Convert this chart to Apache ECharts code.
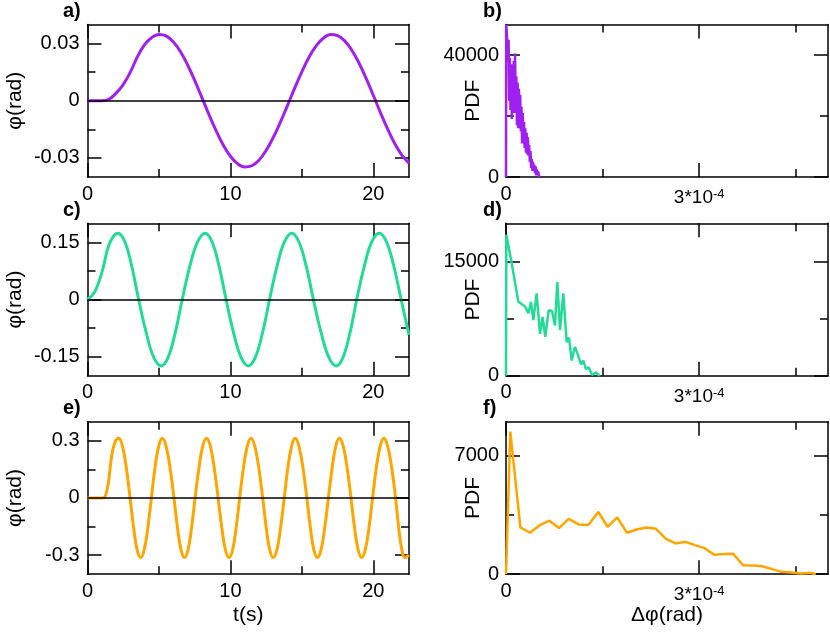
<!DOCTYPE html>
<html>
<head>
<meta charset="utf-8">
<title>phi(t) and PDF panels</title>
<script src="https://cdn.jsdelivr.net/npm/echarts@6.0.0/dist/echarts.min.js"></script>
<style>
  html, body { margin: 0; padding: 0; background: #fff; }
  #chart { width: 830px; height: 638px; }
</style>
</head>
<body>
<div id="chart"></div>
<script>
var FONT = '"Liberation Sans", Arial, Helvetica, sans-serif';

// a) phi(t), purple
var tA = [0, 0.5, 1, 1.5, 2, 2.5, 3, 3.5, 4, 4.5, 5, 5.5, 6, 6.5, 7, 7.5, 8, 8.5, 9, 9.5,
  10, 10.5, 11, 11.5, 12, 12.5, 13, 13.5, 14, 14.5, 15, 15.5, 16, 16.5, 17, 17.5, 18, 18.5,
  19, 19.5, 20, 20.5, 21, 21.5, 22, 22.5];
var phiA = [0, 0, 0, 0.0008, 0.004, 0.0085, 0.015, 0.0232, 0.0294, 0.0332, 0.0348, 0.034,
  0.0309, 0.0258, 0.0189, 0.0107, 0.0018, -0.0072, -0.0157, -0.0232, -0.0291, -0.033,
  -0.0347, -0.0341, -0.0312, -0.0261, -0.0193, -0.0112, -0.0024, 0.0066, 0.0152, 0.0228,
  0.0288, 0.0328, 0.0347, 0.0342, 0.0314, 0.0265, 0.0198, 0.0117, 0.0029, -0.0062,
  -0.0148, -0.0224, -0.0285, -0.0327];

// c) phi(t), green
var tC = [0, 0.5, 1.0, 1.45, 1.8, 2.14, 2.62, 3.10, 3.58, 4.11, 4.63, 5.16, 5.65, 6.14,
  6.63, 7.16, 7.70, 8.23, 8.72, 9.21, 9.70, 10.22, 10.74, 11.26, 11.75, 12.25, 12.74,
  13.26, 13.78, 14.30, 14.80, 15.31, 15.81, 16.35, 16.88, 17.42, 17.89, 18.37, 18.84,
  19.37, 19.89, 20.42, 20.93, 21.44, 21.95, 22.5];
var phiC = [0, 0.02, 0.07, 0.138, 0.165, 0.174, 0.151, 0.087, 0, -0.087, -0.151, -0.174,
  -0.151, -0.087, 0, 0.087, 0.151, 0.174, 0.151, 0.087, 0, -0.087, -0.151, -0.174,
  -0.151, -0.087, 0, 0.087, 0.151, 0.174, 0.151, 0.087, 0, -0.087, -0.151, -0.174,
  -0.151, -0.087, 0, 0.087, 0.151, 0.174, 0.151, 0.087, 0, -0.093];

// e) phi(t), orange
var tE = [0, 0.5, 1.0, 1.16, 1.44, 1.67, 1.91, 2.19,
  2.45, 2.72, 2.98, 3.23, 3.47, 3.72, 3.97, 4.22, 4.47, 4.72, 4.98, 5.23,
  5.50, 5.78, 6.05, 6.30, 6.54, 6.79, 7.04, 7.28, 7.53, 7.80, 8.06, 8.33,
  8.60, 8.87, 9.14, 9.40, 9.65, 9.91, 10.16, 10.40, 10.65, 10.91, 11.18, 11.44,
  11.71, 11.99, 12.26, 12.51, 12.75, 13.00, 13.26, 13.51, 13.77, 14.02, 14.28, 14.53,
  14.80, 15.08, 15.35, 15.60, 15.84, 16.09, 16.35, 16.60, 16.86, 17.12, 17.37, 17.63,
  17.90, 18.17, 18.44, 18.69, 18.94, 19.19, 19.44, 19.70, 19.95, 20.21, 20.48, 20.74,
  21.01, 21.29, 21.56, 21.78, 22.00, 22.21, 22.5];
var phiE = [0, 0, 0, 0.001, 0.07, 0.21, 0.29, 0.313,
  0.271, 0.157, 0, -0.157, -0.271, -0.313, -0.271, -0.157, 0, 0.157, 0.271, 0.313,
  0.271, 0.157, 0, -0.157, -0.271, -0.313, -0.271, -0.157, 0, 0.157, 0.271, 0.313,
  0.271, 0.157, 0, -0.157, -0.271, -0.313, -0.271, -0.157, 0, 0.157, 0.271, 0.313,
  0.271, 0.157, 0, -0.157, -0.271, -0.313, -0.271, -0.157, 0, 0.157, 0.271, 0.313,
  0.271, 0.157, 0, -0.157, -0.271, -0.313, -0.271, -0.157, 0, 0.157, 0.271, 0.313,
  0.271, 0.157, 0, -0.157, -0.271, -0.313, -0.271, -0.157, 0, 0.157, 0.271, 0.313,
  0.271, 0.157, 0, -0.157, -0.271, -0.313, -0.30];

// b) PDF of dphi (x in units of 1e-6 rad)
var dphiB = [0, 0.3, 1, 2, 3, 4, 5, 6, 7, 8, 9, 10, 11, 12, 13, 14, 15, 16, 17, 18, 19, 20,
  21, 22, 23, 24, 25, 26, 27, 28, 29, 30, 31, 32, 33, 34, 35, 36, 37, 38, 39, 40,
  41, 42, 43, 44, 45, 46, 47, 48, 49, 50, 51, 52];
var pdfB = [0, 50000, 48000, 44000, 38000, 45000, 25000, 39000, 22000, 37000, 19000, 36000,
  24000, 38000, 21000, 40500, 26000, 33000, 17000, 31000, 16000, 29000,
  18000, 27000, 15000, 23000, 11000, 21000, 12000, 18000, 9500, 16000,
  8000, 14500, 7500, 13000, 7000, 10500, 5000, 8500, 3000, 6000,
  2000, 5000, 2500, 4000, 1200, 3500, 500, 2500, 1000, 1800, 600, 0];

// d) PDF of dphi
var dphiD = [0, 0.5, 1, 8.8, 19.2, 29.5, 34.7, 38.8, 42.4, 47.6, 52.8, 56.9, 61, 66.3, 71.4,
  76.1, 79.7, 83.9, 89, 94.2, 97.8, 102, 107, 111, 116.5, 120, 124, 128.4, 133.5, 139.8, 145];
var pdfD = [0, 18500, 18300, 14800, 9700, 9100, 8200, 9700, 7300, 10800, 5500, 7700, 5100,
  8600, 8500, 6600, 12300, 6000, 10800, 4400, 5000, 2000, 3800, 2900, 1500, 2000, 900,
  1100, 130, 440, 0];

// f) PDF of dphi
var dphiF = [0, 6.7, 22.3, 37.3, 52.8, 67.3, 82.3, 97.3, 112.8, 127.8, 143.3, 157.8, 172.8,
  187.8, 202.8, 218.3, 232.8, 248.3, 263.3, 278.8, 293.3, 308.3, 323.3, 338.3, 352.8,
  368.3, 382.8, 397.8, 413.3, 427.8, 443.3, 457.8, 473.3, 481];
var pdfF = [0, 8420, 2760, 2445, 2900, 3155, 2720, 3270, 2940, 2900, 3670, 2800, 3350,
  2445, 2640, 2760, 2680, 2090, 1815, 1910, 1715, 1540, 1145, 1185, 1200,
  530, 510, 470, 300, 140, 100, 40, 80, 0];

// ticks
var tMajor = [0, 10, 20], tMinor = [5, 15];
var dMajor = [0, 300], dMinor = [150, 450];

var panels = [
  { label: 'a)', left: 87.5, top: 24.5, color: '#a020f0', x: tA, y: phiA, smooth: true,
    xMax: 22.5, yMin: -0.04, yMax: 0.04, yMajor: [-0.03, 0, 0.03], yMinor: [-0.015, 0.015],
    yName: 'φ(rad)', xName: '' },
  { label: 'b)', left: 506, top: 24.5, color: '#a020f0', x: dphiB, y: pdfB, smooth: false,
    xMax: 500, yMin: 0, yMax: 50000, yMajor: [0, 40000], yMinor: [20000],
    yName: 'PDF', xName: '' },
  { label: 'c)', left: 87.5, top: 223.3, color: '#22dc96', x: tC, y: phiC, smooth: true,
    xMax: 22.5, yMin: -0.2, yMax: 0.2, yMajor: [-0.15, 0, 0.15], yMinor: [-0.075, 0.075],
    yName: 'φ(rad)', xName: '' },
  { label: 'd)', left: 506, top: 223.3, color: '#22dc96', x: dphiD, y: pdfD, smooth: false,
    xMax: 500, yMin: 0, yMax: 20000, yMajor: [0, 15000], yMinor: [7500],
    yName: 'PDF', xName: '' },
  { label: 'e)', left: 87.5, top: 421.7, color: '#ffa500', x: tE, y: phiE, smooth: true,
    xMax: 22.5, yMin: -0.4, yMax: 0.4, yMajor: [-0.3, 0, 0.3], yMinor: [-0.15, 0.15],
    yName: 'φ(rad)', xName: 't(s)' },
  { label: 'f)', left: 506, top: 421.7, color: '#ffa500', x: dphiF, y: pdfF, smooth: false,
    xMax: 500, yMin: 0, yMax: 9000, yMajor: [0, 7000], yMinor: [3500],
    yName: 'PDF', xName: 'Δφ(rad)' }
];

var nameTxt = { color: '#000', fontFamily: FONT, fontSize: 21 };

function xLabelFmt(isTime) {
  return function (v) {
    if (isTime || v === 0) return String(v);
    return '{a|3*10}{b|-4}';
  };
}

function sideAxes(dim, gi, p) {
  var isX = dim === 'x';
  var isTime = p.xMax === 22.5;
  var min = isX ? 0 : p.yMin;
  var max = isX ? p.xMax : p.yMax;
  var major = isX ? (isTime ? tMajor : dMajor) : p.yMajor;
  var minor = isX ? (isTime ? tMinor : dMinor) : p.yMinor;
  var sides = isX ? ['bottom', 'top'] : ['left', 'right'];
  var out = [];
  sides.forEach(function (side, si) {
    var main = {
      type: 'value', gridIndex: gi, position: side, min: min, max: max,
      axisLine: { show: true, onZero: false, lineStyle: { color: '#000', width: 1.5 } },
      axisTick: { show: true, inside: true, length: 14, customValues: major,
        lineStyle: { color: '#000', width: 1.5 } },
      axisLabel: { show: false },
      splitLine: { show: false }
    };
    if (si === 0) {
      main.axisLabel = {
        show: true, customValues: major, color: '#000', fontFamily: FONT, fontSize: 20,
        margin: isX ? 7 : (isTime ? 8 : 7),
        formatter: isX ? xLabelFmt(isTime) : function (v) { return String(v); },
        rich: {
          a: { fontFamily: FONT, fontSize: 19, color: '#000', lineHeight: 24, padding: [4, 0, 0, 0] },
          b: { fontFamily: FONT, fontSize: 13, color: '#000', lineHeight: 12, verticalAlign: 'top', padding: [4, 0, 0, 0] }
        }
      };
      var nm = isX ? p.xName : p.yName;
      if (nm) {
        main.name = nm;
        main.nameLocation = 'middle';
        main.nameMoveOverlap = false;
        main.nameTextStyle = nameTxt;
        if (isX) {
          main.nameGap = 31;
        } else {
          main.nameRotate = 90;
          main.nameGap = isTime ? 62 : 22;
        }
      }
    }
    out.push(main);
    out.push({
      type: 'value', gridIndex: gi, position: side, min: min, max: max,
      axisLine: { show: false, onZero: false },
      axisTick: { show: true, inside: true, length: 8, customValues: minor,
        lineStyle: { color: '#000', width: 1.5 } },
      axisLabel: { show: false },
      splitLine: { show: false }
    });
  });
  return out;
}

var grids = [], xAxes = [], yAxes = [], series = [], titles = [];

panels.forEach(function (p, gi) {
  grids.push({ left: p.left, top: p.top, width: p.left < 300 ? 321.5 : 322, height: 152.5 });
  xAxes = xAxes.concat(sideAxes('x', gi, p));
  yAxes = yAxes.concat(sideAxes('y', gi, p));

  var pts = [];
  for (var i = 0; i < p.x.length; i++) pts.push([p.x[i], p.y[i]]);

  var s = {
    type: 'line', xAxisIndex: gi * 4, yAxisIndex: gi * 4, data: pts,
    showSymbol: false, smooth: p.smooth ? 0.4 : false,
    lineStyle: { color: p.color, width: p.smooth ? 3 : 2.5 },
    itemStyle: { color: p.color },
    z: 3
  };
  if (p.smooth) {
    s.markLine = {
      silent: true, symbol: 'none', label: { show: false }, animation: false,
      lineStyle: { color: '#000', width: 1.5, type: 'solid' },
      data: [{ yAxis: 0 }]
    };
  }
  series.push(s);

  titles.push({
    text: p.label, left: p.left < 300 ? 63 : 483, top: p.top - 23, padding: 0,
    textStyle: { color: '#000', fontFamily: FONT, fontSize: 20, fontWeight: 'bold' }
  });
});

var chart = echarts.init(document.getElementById('chart'), null, { renderer: 'canvas' });
chart.setOption({
  animation: false,
  backgroundColor: '#fff',
  title: titles,
  grid: grids,
  xAxis: xAxes,
  yAxis: yAxes,
  series: series
});
</script>
</body>
</html>
